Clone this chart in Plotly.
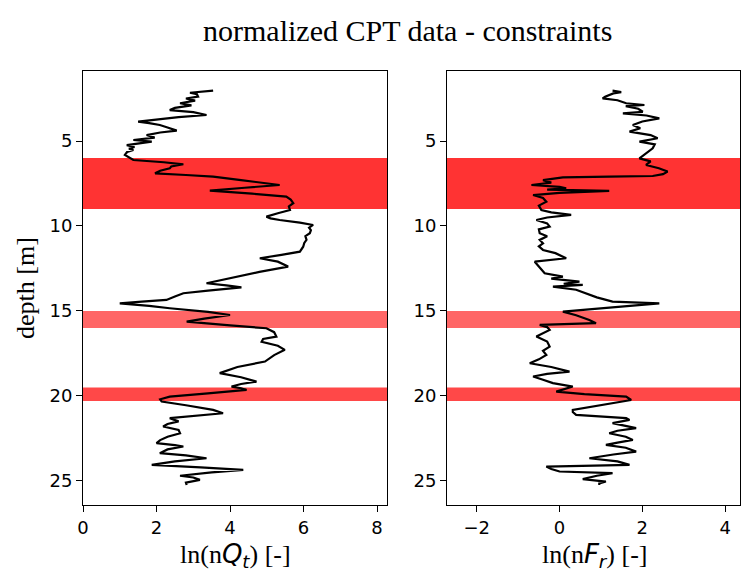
import plotly.graph_objects as go

# ---- data ----
qt_depth = [2.04, 2.10, 2.16, 2.25, 2.39, 2.50, 2.62, 2.78, 2.90, 3.05,
            3.18, 3.30, 3.47, 3.60, 3.75, 3.86, 3.95, 4.06, 4.20, 4.39,
            4.50, 4.65, 4.80, 4.94, 5.04, 5.15, 5.24, 5.35, 5.45, 5.53,
            5.65, 5.82, 5.95, 6.12, 6.25, 6.37, 6.50, 6.61, 6.75, 6.90,
            7.00, 7.10, 7.30, 7.59, 7.75, 7.92, 8.10, 8.27, 8.45, 8.66,
            8.85, 9.06, 9.25, 9.45, 9.55, 9.65, 9.80, 9.94, 10.10, 10.25,
            10.43, 10.60, 10.82, 11.00, 11.22, 11.51, 11.70, 11.90, 12.10, 12.39,
            12.70, 12.98, 13.20, 13.37, 13.50, 13.61, 13.80, 13.96, 14.15, 14.35,
            14.45, 14.55, 14.70, 14.84, 15.05, 15.24, 15.45, 15.63, 15.85, 16.02,
            16.25, 16.51, 16.65, 16.81, 17.05, 17.29, 17.60, 17.98, 18.30, 18.66,
            18.90, 19.16, 19.30, 19.45, 19.55, 19.65, 19.85, 20.04, 20.20, 20.33,
            20.55, 20.82, 21.02, 21.15, 21.31, 21.50, 21.65, 21.80, 22.00, 22.20,
            22.40, 22.60, 22.78, 22.90, 22.98, 23.15, 23.37, 23.50, 23.67, 23.85,
            24.06, 24.20, 24.35, 24.50, 24.70, 24.80, 24.94, 25.10, 25.24]
ln_nQt = [3.54, 3.20, 2.91, 3.10, 3.13, 2.80, 3.05, 2.64, 2.95, 2.50,
          2.36, 3.00, 3.36, 2.60, 1.90, 1.50, 1.80, 2.09, 2.30, 2.55,
          2.10, 1.73, 1.95, 1.37, 1.87, 1.45, 1.19, 1.40, 1.25, 1.37,
          1.20, 1.14, 1.25, 1.37, 2.20, 2.73, 2.40, 2.36, 2.10, 1.96,
          2.80, 3.54, 4.30, 5.35, 4.40, 3.45, 4.60, 5.53, 5.65, 5.72,
          5.60, 5.63, 5.30, 4.99, 5.10, 5.35, 5.90, 6.26, 6.15, 6.20,
          6.17, 6.05, 6.08, 6.02, 5.99, 5.90, 5.40, 4.81, 5.30, 5.58,
          4.80, 4.18, 3.70, 3.36, 3.90, 4.31, 3.40, 2.73, 2.50, 2.27,
          1.60, 1.00, 1.80, 2.36, 3.40, 4.00, 3.30, 2.82, 4.00, 4.99,
          5.20, 5.26, 4.90, 4.86, 5.30, 5.49, 5.20, 4.95, 4.20, 3.72,
          4.30, 4.72, 4.30, 4.04, 4.30, 4.45, 3.40, 2.36, 2.10, 2.14,
          2.80, 3.54, 3.81, 3.10, 2.36, 2.60, 2.30, 2.18, 2.60, 2.64,
          2.30, 2.10, 2.00, 2.50, 2.73, 2.30, 2.09, 2.80, 3.36, 2.50,
          1.87, 3.20, 4.36, 3.50, 2.64, 3.00, 3.18, 2.80, 2.82]

fr_depth = [2.04, 2.12, 2.20, 2.29, 2.40, 2.49, 2.60, 2.78, 2.88, 2.95,
            3.10, 3.28, 3.37, 3.50, 3.67, 3.85, 4.06, 4.25, 4.45, 4.65,
            4.84, 5.04, 5.20, 5.43, 5.70, 6.02, 6.20, 6.41, 6.60, 6.80,
            6.95, 7.06, 7.10, 7.14, 7.30, 7.45, 7.59, 7.70, 7.78, 7.86,
            7.94, 8.05, 8.18, 8.35, 8.57, 8.80, 9.06, 9.20, 9.35, 9.50,
            9.65, 9.85, 10.04, 10.20, 10.43, 10.60, 10.82, 11.02, 11.20, 11.41,
            11.60, 11.90, 12.10, 12.40, 12.78, 12.98, 13.10, 13.28, 13.40, 13.47,
            13.57, 13.75, 13.96, 14.20, 14.45, 14.55, 14.70, 14.84, 14.95, 15.04,
            15.25, 15.53, 15.72, 15.82, 15.95, 16.12, 16.30, 16.51, 16.80, 17.10,
            17.35, 17.59, 17.85, 18.08, 18.30, 18.57, 18.70, 18.86, 19.05, 19.25,
            19.45, 19.60, 19.75, 19.90, 20.04, 20.24, 20.43, 20.60, 20.82, 20.95,
            21.12, 21.31, 21.41, 21.60, 21.75, 21.90, 22.05, 22.20, 22.40, 22.59,
            22.75, 22.88, 23.05, 23.28, 23.45, 23.67, 23.85, 24.06, 24.16, 24.30,
            24.45, 24.55, 24.70, 24.90, 25.04, 25.15, 25.24]
ln_nFr = [1.28, 1.49, 1.30, 1.20, 1.10, 1.04, 1.40, 1.61, 2.05, 1.60,
          1.90, 2.01, 1.53, 2.10, 2.41, 2.00, 1.77, 1.95, 1.69, 2.20,
          2.37, 1.93, 2.30, 2.25, 2.10, 1.93, 2.20, 2.09, 2.40, 2.61,
          2.50, 2.25, 1.20, 0.08, -0.40, -0.20, -0.68, 0.00, 0.16, -0.30,
          1.20, 0.00, -0.64, -0.40, -0.32, -0.50, -0.44, -0.20, 0.28, -0.30,
          -0.56, -0.30, -0.24, -0.50, -0.48, -0.30, -0.48, -0.40, -0.50, -0.40,
          -0.10, 0.16, -0.60, -0.50, -0.36, 0.08, -0.20, 0.48, 0.10, 0.56,
          -0.16, 0.40, 0.64, 0.90, 1.28, 2.41, 1.70, 1.12, 0.50, 0.08,
          0.40, 0.72, 0.88, -0.48, -0.30, -0.24, -0.40, -0.56, -0.30, -0.24,
          -0.40, -0.32, -0.50, -0.72, -0.20, 0.24, -0.30, -0.64, -0.40, -0.16,
          0.32, 0.10, -0.08, 0.60, 1.61, 1.73, 1.28, 0.80, 0.32, 0.32,
          0.40, 1.61, 1.69, 1.28, 1.60, 1.85, 1.40, 1.20, 1.60, 1.77,
          1.40, 1.12, 1.60, 1.85, 1.30, 0.72, 1.40, 1.69, -0.32, -0.20,
          0.00, 1.28, 0.90, 0.56, 1.12, 0.96, 0.96]

constraint_top = [6.0, 15.0, 19.5]
constraint_bottom = [9.0, 16.0, 20.3]
constraint_color = ["rgb(255,51,51)", "rgb(255,102,102)", "rgb(255,72,72)"]

W, H = 741, 571
def px(x):
    return x / W
def py(y):
    return 1 - y / H

fig = go.Figure()
fig.add_trace(go.Scatter(x=ln_nQt, y=qt_depth, mode="lines",
                         line=dict(color="black", width=2.2), xaxis="x", yaxis="y",
                         showlegend=False))
fig.add_trace(go.Scatter(x=ln_nFr, y=fr_depth, mode="lines",
                         line=dict(color="black", width=2.2), xaxis="x2", yaxis="y2",
                         showlegend=False))

for top, bot, col in zip(constraint_top, constraint_bottom, constraint_color):
    for xr, yr in (("x domain", "y"), ("x2 domain", "y2")):
        fig.add_shape(type="rect", xref=xr, yref=yr, x0=0, x1=1, y0=top, y1=bot,
                      fillcolor=col, line=dict(width=0), layer="below")

tickfont = dict(family="DejaVu Sans", size=18, color="black")
axis_common = dict(showline=True, linecolor="black", linewidth=1, mirror=True,
                   ticks="outside", ticklen=6, tickwidth=1, tickcolor="black",
                   showgrid=False, zeroline=False, tickfont=tickfont,
                   automargin=False)
yrange = [26.42, 0.88]
ydom = [py(505), py(71)]

label_font = dict(family="Liberation Serif", size=26, color="black")

fig.update_layout(
    width=W, height=H, margin=dict(l=0, r=0, t=0, b=0),
    paper_bgcolor="white", plot_bgcolor="rgba(0,0,0,0)",
    xaxis=dict(domain=[px(83), px(387)], range=[0, 8.27], tickvals=[0, 2, 4, 6, 8],
               anchor="y", **axis_common),
    xaxis2=dict(domain=[px(447), px(740)], range=[-2.72, 4.36], tickvals=[-2, 0, 2, 4],
                ticktext=["\u22122", "0", "2", "4"], anchor="y2", **axis_common),
    yaxis=dict(domain=ydom, range=yrange, tickvals=[5, 10, 15, 20, 25], anchor="x",
               **axis_common),
    yaxis2=dict(domain=ydom, range=yrange, tickvals=[5, 10, 15, 20, 25], anchor="x2",
                **axis_common),
    annotations=[
        dict(text="normalized CPT data - constraints", x=px(407), y=py(30),
             xref="paper", yref="paper", showarrow=False,
             xanchor="center", yanchor="middle",
             font=dict(family="Liberation Serif", size=30, color="black")),
        dict(text="depth [m]", x=px(25), y=py(288), xref="paper", yref="paper",
             showarrow=False, textangle=-90, xanchor="center", yanchor="middle",
             font=label_font),
        dict(text="ln(n<span style='font-family:DejaVu Sans'><i>Q</i><sub><i>t</i></sub></span>) [-]",
             x=px(235), y=py(555), xref="paper", yref="paper", showarrow=False,
             xanchor="center", yanchor="middle", font=label_font),
        dict(text="ln(n<span style='font-family:DejaVu Sans'><i>F</i><sub><i>r</i></sub></span>) [-]",
             x=px(594), y=py(555), xref="paper", yref="paper", showarrow=False,
             xanchor="center", yanchor="middle", font=label_font),
    ],
)

fig.write_html("out.html")
